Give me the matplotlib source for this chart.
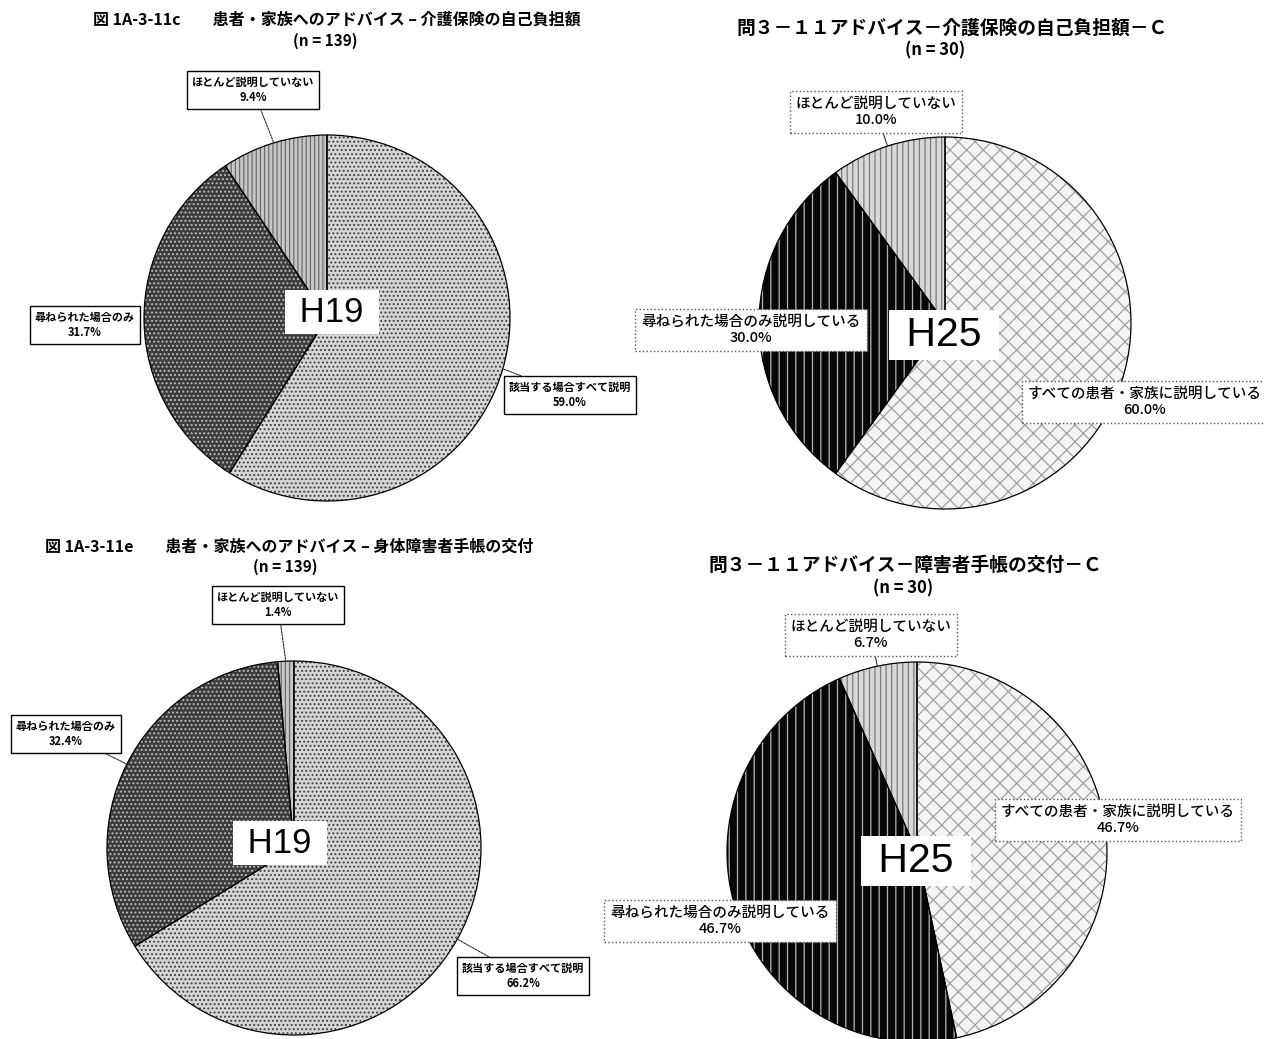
import matplotlib
matplotlib.use("Agg")
import matplotlib.pyplot as plt
import numpy as np

plt.rcParams["font.family"] = ["Noto Sans CJK JP", "DejaVu Sans"]
plt.rcParams["hatch.linewidth"] = 0.9

W, H = 1264, 1039

# ---- data -------------------------------------------------------------
h19_categories = ["該当する場合すべて説明", "尋ねられた場合のみ", "ほとんど説明していない"]
h25_categories = ["すべての患者・家族に説明している", "尋ねられた場合のみ説明している", "ほとんど説明していない"]

h19_copay = [59.0, 31.7, 9.4]        # 介護保険の自己負担額 (H19)
h25_copay = [60.0, 30.0, 10.0]       # 介護保険の自己負担額 (H25)
h19_handbook = [66.2, 32.4, 1.4]     # 身体障害者手帳の交付 (H19)
h25_handbook = [46.7, 46.7, 6.7]     # 障害者手帳の交付 (H25)

titles = [
    "図 1A-3-11c　　患者・家族へのアドバイス – 介護保険の自己負担額",
    "問３－１１アドバイス－介護保険の自己負担額－Ｃ",
    "図 1A-3-11e　　患者・家族へのアドバイス – 身体障害者手帳の交付",
    "問３－１１アドバイス－障害者手帳の交付－Ｃ",
]
sample_sizes = [139, 30, 139, 30]
periods = ["H19", "H25", "H19", "H25"]

# ---- styles per survey year ------------------------------------------
STYLE = {
    "H19": dict(face=["#d6d6d6", "#3c3c3c", "#c6c6c6"],
                hatch=["....", "....", "||||"],
                hatch_color=["#3c3c3c", "#c0c0c0", "#6c6c6c"],
                outline="black",
                title_size=11.5, n_size=11,
                label_size=8, label_weight="bold",
                box_ls="-", box_ec="black", box_lw=1.0,
                leader_ls=(0, (2, 1)), tag_size=25),
    "H25": dict(face=["#f4f4f4", "#060606", "#d8d8d8"],
                hatch=["xx", "||", "|||"],
                hatch_color=["#a0a0a0", "#b4b4b4", "#7a7a7a"],
                outline="black",
                title_size=13.5, n_size=12,
                label_size=10.5, label_weight="medium",
                box_ls=":", box_ec="#555555", box_lw=1.0,
                leader_ls="-", tag_size=29.5),
}

# ---- layout (pixel positions, origin top-left) -------------------------
panels = [
    dict(values=h19_copay, cats=h19_categories, center=(327, 318), radius=183,
         title_xy=(337, 20), n_xy=(325, 41),
         label_xy=[(570, 395), (85, 325), (253, 90)], leader=[True, False, True],
         tag_xy=(332, 312)),
    dict(values=h25_copay, cats=h25_categories, center=(945, 323), radius=186,
         title_xy=(952, 28), n_xy=(935, 50),
         label_xy=[(1145, 402), (751, 330), (876, 112)], leader=[True, False, True],
         tag_xy=(944, 335)),
    dict(values=h19_handbook, cats=h19_categories, center=(294, 848), radius=187,
         title_xy=(289, 547), n_xy=(285, 567),
         label_xy=[(523, 976), (66, 734), (278, 605)], leader=[True, True, True],
         tag_xy=(280, 843)),
    dict(values=h25_handbook, cats=h25_categories, center=(917, 852), radius=190,
         title_xy=(905, 565), n_xy=(903, 588),
         label_xy=[(1118, 820), (720, 921), (871, 635)], leader=[False, False, True],
         tag_xy=(916, 861)),
]

fig = plt.figure(figsize=(W / 100, H / 100), dpi=100)
fig.patch.set_facecolor("white")

PAD = 1.03


def to_fig(x, y):
    return x / W, 1 - y / H


for p, title, n, period in zip(panels, titles, sample_sizes, periods):
    st = STYLE[period]
    cx, cy = p["center"]
    R = p["radius"]
    side = 2 * R * PAD
    ax = fig.add_axes([(cx - R * PAD) / W, 1 - (cy + R * PAD) / H, side / W, side / H])

    # textured fill (hatch colour follows the edge colour, edge width 0)
    wedges, _ = ax.pie(p["values"], startangle=90, counterclock=False, radius=1,
                       colors=st["face"], hatch=st["hatch"],
                       wedgeprops=dict(linewidth=0))
    for w, hc in zip(wedges, st["hatch_color"]):
        w.set_edgecolor(hc)
    # outlines
    ax.pie(p["values"], startangle=90, counterclock=False, radius=1,
           wedgeprops=dict(fill=False, edgecolor=st["outline"], linewidth=0.9))
    ax.set_xlim(-PAD, PAD)
    ax.set_ylim(-PAD, PAD)
    ax.set_aspect("auto")
    ax.axis("off")

    # boxed data labels with leader lines
    for i, w in enumerate(wedges):
        mid = np.deg2rad((w.theta1 + w.theta2) / 2)
        edge = (np.cos(mid), np.sin(mid))
        lx, ly = p["label_xy"][i]
        txy = ((lx - cx) / R, (cy - ly) / R)
        text = f"{p['cats'][i]}\n{p['values'][i]:.1f}%"
        arrow = None
        if p["leader"][i]:
            arrow = dict(arrowstyle="-", color="#333333", lw=0.8,
                         linestyle=st["leader_ls"], shrinkA=0, shrinkB=0)
        ax.annotate(text, xy=edge, xytext=txy, ha="center", va="center",
                    multialignment="center", linespacing=1.25,
                    fontsize=st["label_size"], fontweight=st["label_weight"],
                    bbox=dict(boxstyle="square,pad=0.4", fc="white",
                              ec=st["box_ec"], ls=st["box_ls"], lw=st["box_lw"]),
                    arrowprops=arrow, annotation_clip=False, zorder=5)

    # survey year tag in the centre
    tx, ty = p["tag_xy"]
    ax.text((tx - cx) / R, (cy - ty) / R, f" {period} ", family="Liberation Sans",
            fontsize=st["tag_size"], ha="center", va="center", zorder=6,
            bbox=dict(boxstyle="square,pad=0.15", fc="white", ec="none"))

    fig.text(*to_fig(*p["title_xy"]), title, ha="center", va="center",
             fontsize=st["title_size"], fontweight="bold")
    fig.text(*to_fig(*p["n_xy"]), f"(n = {n})", ha="center", va="center",
             fontsize=st["n_size"], fontweight="bold")

fig.savefig("out.png", dpi=100, facecolor="white")
